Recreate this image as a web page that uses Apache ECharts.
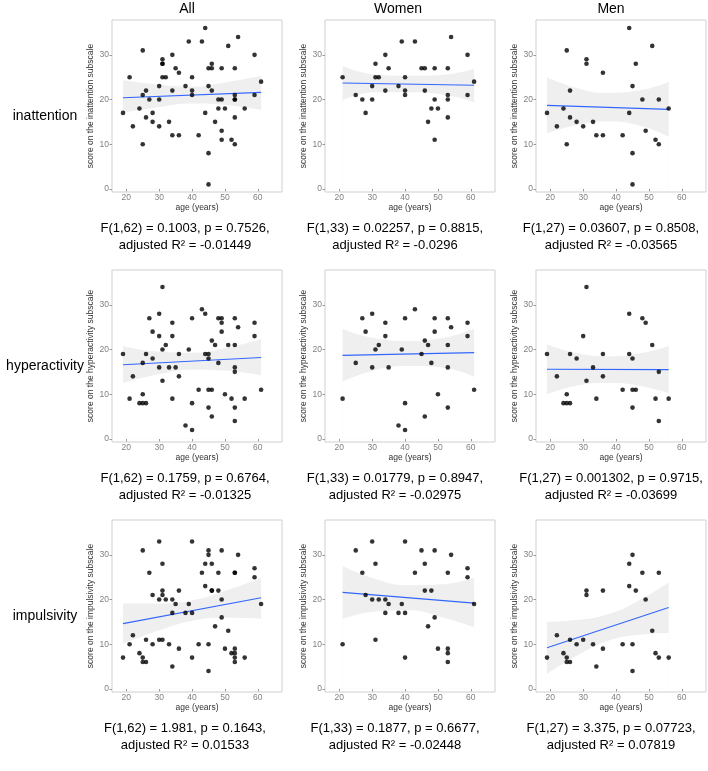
<!DOCTYPE html>
<html>
<head>
<meta charset="utf-8">
<script src="https://cdn.jsdelivr.net/npm/echarts@6.0.0/dist/echarts.min.js"></script>
<style>
  html, body { margin: 0; padding: 0; background: #fff; }
  #chart { width: 708px; height: 771px; }
</style>
</head>
<body>
<div id="chart"></div>
<script>
// labels
const colTitles = ['All', 'Women', 'Men'];
const rowNames = ['inattention', 'hyperactivity', 'impulsivity'];
const xTicks = [20, 30, 40, 50, 60];
const yTicks = [0, 10, 20, 30];

// [age, score], one array per group and subscale
const womenInatt = [[21,25],[25,21],[27,20],[28,17],[30,23],[30,20],[31,28],[31,25],[32,25],[34,30],[34,22],[35,27],[38,23],[39,33],[40,25],[40,22],[40,21],[43,33],[45,27],[46,27],[46,22],[47,15],[48,18],[49,27],[49,20],[49,11],[50,18],[53,27],[53,21],[53,20],[53,16],[54,34],[59,30],[59,21],[61,24]];
const menInatt = [[19,17],[22,14],[24,18],[25,31],[25,10],[26,22],[26,16],[28,15],[30,14],[31,29],[31,28],[33,15],[34,12],[36,26],[36,12],[42,12],[44,36],[44,17],[45,23],[45,8],[45,1],[46,28],[48,20],[49,13],[51,32],[52,11],[53,20],[53,10],[56,18]];

const womenHyper = [[21,9],[25,17],[27,27],[28,24],[30,28],[30,16],[31,20],[32,21],[34,26],[34,23],[35,16],[38,3],[39,20],[40,27],[40,8],[40,2],[43,29],[45,19],[46,22],[46,5],[47,21],[48,17],[49,27],[49,24],[50,10],[53,27],[53,21],[53,16],[53,7],[54,25],[59,26],[59,23],[61,11]];
const menHyper = [[19,19],[22,14],[24,8],[25,10],[25,8],[26,8],[26,19],[28,18],[30,23],[31,34],[31,13],[33,16],[34,9],[36,19],[36,14],[42,11],[44,28],[44,19],[45,18],[45,11],[45,7],[46,11],[48,27],[49,26],[51,21],[52,9],[53,15],[53,4],[56,9]];

const womenImpul = [[21,10],[25,31],[27,26],[28,21],[30,33],[30,20],[31,28],[31,11],[32,20],[34,20],[34,17],[35,19],[38,17],[39,19],[40,33],[40,17],[40,7],[43,26],[45,31],[46,28],[46,22],[47,14],[48,22],[49,31],[49,16],[50,9],[53,26],[53,9],[53,8],[53,6],[54,30],[59,27],[59,25],[61,19]];
const menImpul = [[19,7],[22,12],[24,8],[25,7],[25,6],[26,6],[26,11],[28,10],[30,11],[31,22],[31,21],[33,10],[34,5],[36,22],[36,9],[42,10],[44,28],[44,23],[45,30],[45,10],[45,4],[46,22],[48,26],[49,20],[51,13],[52,8],[53,26],[53,7],[56,7]];

// regression line: score at first and last age, per subscale row
const fitAll = [[20.4, 21.6], [16.6, 18.2], [14.6, 20.4]];
const fitWomen = [[23.7, 23.2], [18.7, 19.3], [21.6, 19.2]];
const fitMen = [[18.7, 17.8], [15.6, 15.5], [9.2, 18.2]];

// confidence band read at a few ages
const bandAgesAll = [19, 30, 40, 50, 61];
const bandAgesWomen = [21, 31, 41, 51, 61];
const bandAgesMen = [19, 28, 37.5, 47, 56];

const bandLowAll = [[17.0, 18.3, 19.1, 18.8, 17.7], [12.5, 14.5, 15.5, 15.3, 14.2], [10.1, 13.1, 15.2, 15.9, 15.7]];
const bandHighAll = [[24.3, 23.3, 22.9, 23.8, 25.3], [20.8, 19.5, 19.3, 20.3, 22.3], [19.1, 19.1, 19.8, 21.9, 24.8]];
const bandLowWomen = [[19.8, 21.6, 21.6, 21.2, 19.4], [12.8, 15.4, 16.3, 16.0, 13.9], [15.6, 17.3, 17.6, 16.1, 13.8]];
const bandHighWomen = [[27.5, 25.6, 25.3, 25.5, 26.9], [24.6, 22.5, 21.9, 22.5, 24.7], [27.5, 24.6, 23.2, 23.4, 24.9]];
const bandLowMen = [[12.4, 14.3, 15.1, 14.2, 11.7], [10.0, 11.9, 12.5, 11.9, 10.2], [3.3, 7.4, 10.7, 12.1, 12.5]];
const bandHighMen = [[25.0, 22.6, 21.5, 22.0, 23.9], [21.2, 19.2, 18.5, 19.1, 20.8], [15.0, 15.4, 16.7, 19.8, 23.8]];

const statsLine1 = [
  'F(1,62) = 0.1003, p = 0.7526,', 'F(1,33) = 0.02257, p = 0.8815,', 'F(1,27) = 0.03607, p = 0.8508,',
  'F(1,62) = 0.1759, p = 0.6764,', 'F(1,33) = 0.01779, p = 0.8947,', 'F(1,27) = 0.001302, p = 0.9715,',
  'F(1,62) = 1.981, p = 0.1643,', 'F(1,33) = 0.1877, p = 0.6677,', 'F(1,27) = 3.375, p = 0.07723,'
];
const statsLine2 = [
  'adjusted R² = -0.01449', 'adjusted R² = -0.0296', 'adjusted R² = -0.03565',
  'adjusted R² = -0.01325', 'adjusted R² = -0.02975', 'adjusted R² = -0.03699',
  'adjusted R² = 0.01533', 'adjusted R² = -0.02448', 'adjusted R² = 0.07819'
];

const pointsByRow = [
  [womenInatt.concat(menInatt), womenInatt, menInatt],
  [womenHyper.concat(menHyper), womenHyper, menHyper],
  [womenImpul.concat(menImpul), womenImpul, menImpul]
];
const groups = [
  { ages: bandAgesAll, fit: fitAll, lo: bandLowAll, hi: bandHighAll },
  { ages: bandAgesWomen, fit: fitWomen, lo: bandLowWomen, hi: bandHighWomen },
  { ages: bandAgesMen, fit: fitMen, lo: bandLowMen, hi: bandHighMen }
];

const FONT = '"Liberation Sans", Arial, Helvetica, sans-serif';
const colLeft = [112, 325, 536];
const panelW = 170;
const rowTop = [20, 270, 520];
const panelH = 172;
const titleX = [187, 398, 611];
const statsX = [185, 395, 611];

let chart = echarts.init(document.getElementById('chart'), null, { renderer: 'canvas' });

let grids = [], xAxes = [], yAxes = [], series = [], graphics = [];

for (let r = 0; r < 3; r++) {
  for (let c = 0; c < 3; c++) {
    let i = r * 3 + c;
    let g = groups[c];
    grids.push({
      left: colLeft[c], top: rowTop[r], width: panelW, height: panelH,
      show: true, borderColor: '#cfcfcf', borderWidth: 1, backgroundColor: '#fff'
    });
    xAxes.push({
      type: 'value', gridIndex: i, min: 15.65, max: 67.35,
      name: 'age (years)', nameLocation: 'middle', nameGap: 5,
      nameTextStyle: { fontSize: 8.5, color: '#333', fontFamily: FONT },
      axisLine: { show: false },
      axisTick: { show: true, length: 2.5, customValues: xTicks, lineStyle: { color: '#999' } },
      axisLabel: { customValues: xTicks, fontSize: 8.5, color: '#808080', margin: 1.5, fontFamily: FONT },
      splitLine: { show: false }
    });
    yAxes.push({
      type: 'value', gridIndex: i, min: -0.7, max: 37.8,
      name: 'score on the ' + rowNames[r] + ' subscale', nameLocation: 'middle', nameGap: 10,
      nameTextStyle: { fontSize: 8.5, color: '#333', fontFamily: FONT },
      axisLine: { show: false },
      axisTick: { show: true, length: 2.5, customValues: yTicks, lineStyle: { color: '#999' } },
      axisLabel: { customValues: yTicks, fontSize: 8.5, color: '#808080', margin: 3, fontFamily: FONT },
      splitLine: { show: false }
    });

    // band: gray fill under the upper edge, white fill under the lower edge
    series.push({
      type: 'line', xAxisIndex: i, yAxisIndex: i, silent: true, z: 1,
      smooth: true, symbol: 'none',
      lineStyle: { width: 0, opacity: 0 },
      areaStyle: { color: '#efefef', opacity: 1, origin: 0 },
      data: g.ages.map((a, k) => [a, g.hi[r][k]])
    });
    series.push({
      type: 'line', xAxisIndex: i, yAxisIndex: i, silent: true, z: 1,
      smooth: true, symbol: 'none',
      lineStyle: { width: 0, opacity: 0 },
      areaStyle: { color: '#ffffff', opacity: 1, origin: 0 },
      data: g.ages.map((a, k) => [a, g.lo[r][k]])
    });
    series.push({
      type: 'line', xAxisIndex: i, yAxisIndex: i, silent: true, z: 2,
      symbol: 'none',
      lineStyle: { color: '#3366ff', width: 1.1 },
      data: [[g.ages[0], g.fit[r][0]], [g.ages[g.ages.length - 1], g.fit[r][1]]]
    });
    series.push({
      type: 'scatter', xAxisIndex: i, yAxisIndex: i, z: 3,
      symbolSize: 4.6,
      itemStyle: { color: '#000' },
      data: pointsByRow[r][c]
    });

    graphics.push({
      type: 'text',
      x: statsX[c], y: rowTop[r] + 208,
      style: { text: statsLine1[i], font: '13px ' + FONT, fill: '#000', textAlign: 'center', textVerticalAlign: 'middle' }
    });
    graphics.push({
      type: 'text',
      x: statsX[c], y: rowTop[r] + 225,
      style: { text: statsLine2[i], font: '13px ' + FONT, fill: '#000', textAlign: 'center', textVerticalAlign: 'middle' }
    });
  }
  graphics.push({
    type: 'text', x: 45, y: rowTop[r] + 96,
    style: { text: rowNames[r], font: '14px ' + FONT, fill: '#000', textAlign: 'center', textVerticalAlign: 'middle' }
  });
}

colTitles.forEach((t, c) => {
  graphics.push({
    type: 'text', x: titleX[c], y: 9,
    style: { text: t, font: '14px ' + FONT, fill: '#000', textAlign: 'center', textVerticalAlign: 'middle' }
  });
});

chart.setOption({
  animation: false,
  backgroundColor: '#fff',
  grid: grids,
  xAxis: xAxes,
  yAxis: yAxes,
  series: series,
  graphic: { elements: graphics }
});
</script>
</body>
</html>
